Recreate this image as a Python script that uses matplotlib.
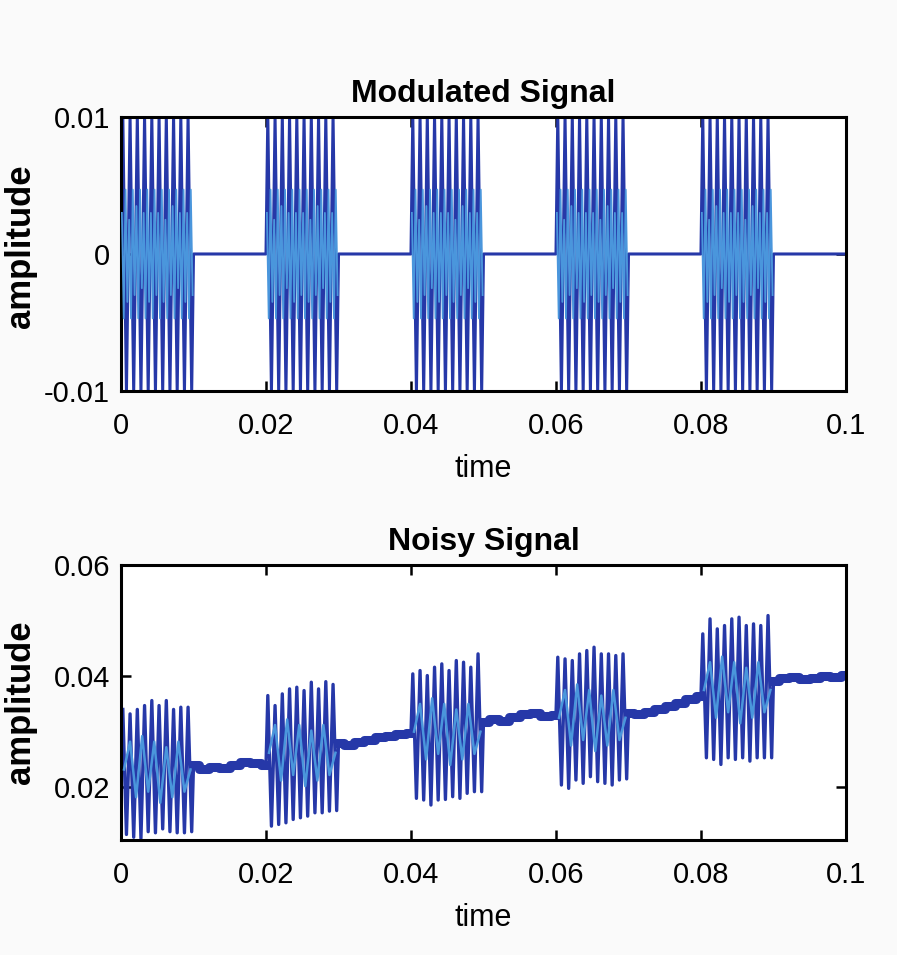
import numpy as np
import matplotlib.pyplot as plt

plt.rcParams['font.family'] = ['Liberation Sans', 'DejaVu Sans']

# time axis
time_ticks = [0, 0.02, 0.04, 0.06, 0.08, 0.1]
time_labels = ["0", "0.02", "0.04", "0.06", "0.08", "0.1"]
burst_starts = [0.0, 0.02, 0.04, 0.06, 0.08]
burst_len = 0.01

# modulated signal: carrier peaks (clipped at +-0.01) and the lighter inner ripple
mod_ticks = [-0.01, 0, 0.01]
mod_labels = ["-0.01", "0", "0.01"]
mod_peak = [0.01, -0.01] * 10
mod_inner = [0.0030, -0.0047, 0.0047, -0.0035, 0.0025, -0.0047, 0.0047, -0.0030, 0.0035, -0.0047,
             0.0047, -0.0025, 0.0030, -0.0047, 0.0047, -0.0035, 0.0030, -0.0047, 0.0047, -0.0030,
             0.0030, -0.0047, 0.0047, -0.0035, 0.0025, -0.0047, 0.0047, -0.0030, 0.0035, -0.0047,
             0.0047, -0.0025, 0.0030, -0.0047, 0.0047, -0.0035, 0.0030, -0.0047, 0.0047, -0.0030]

# noisy signal: upper / lower peaks of each burst
noisy_ticks = [0.02, 0.04, 0.06]
noisy_labels = ["0.02", "0.04", "0.06"]
noisy_tops = [
    [0.0340, 0.0332, 0.0340, 0.0347, 0.0356, 0.0347, 0.0356, 0.0340, 0.0344, 0.0344],
    [0.0365, 0.0347, 0.0368, 0.0377, 0.0380, 0.0374, 0.0389, 0.0377, 0.0390, 0.0385],
    [0.0404, 0.0410, 0.0401, 0.0416, 0.0422, 0.0410, 0.0428, 0.0425, 0.0416, 0.0440],
    [0.0434, 0.0431, 0.0428, 0.0440, 0.0446, 0.0452, 0.0440, 0.0440, 0.0437, 0.0440],
    [0.0476, 0.0503, 0.0485, 0.0491, 0.0503, 0.0506, 0.0491, 0.0494, 0.0491, 0.0509],
]
noisy_bots = [
    [0.0115, 0.0110, 0.0108, 0.0120, 0.0118, 0.0125, 0.0120, 0.0118, 0.0118, 0.0120],
    [0.0130, 0.0133, 0.0136, 0.0142, 0.0145, 0.0148, 0.0154, 0.0154, 0.0157, 0.0158],
    [0.0180, 0.0177, 0.0168, 0.0177, 0.0178, 0.0183, 0.0180, 0.0189, 0.0192, 0.0192],
    [0.0204, 0.0198, 0.0213, 0.0207, 0.0219, 0.0210, 0.0207, 0.0204, 0.0213, 0.0215],
    [0.0253, 0.0250, 0.0241, 0.0253, 0.0250, 0.0253, 0.0247, 0.0253, 0.0253, 0.0253],
]
noisy_mid = [0.0232, 0.0262, 0.0300, 0.0325, 0.0375]
noisy_ripple = [0.000, 0.005, -0.005, 0.006, -0.004, 0.005, -0.006, 0.004, -0.005, 0.005, -0.004, 0.000]
# level of the noise between bursts
noisy_gaps = [
    [0.0240, 0.0232, 0.0236, 0.0234, 0.0240, 0.0246, 0.0244, 0.0240],
    [0.0280, 0.0276, 0.0282, 0.0285, 0.0290, 0.0292, 0.0296, 0.0298],
    [0.0318, 0.0322, 0.0320, 0.0326, 0.0332, 0.0334, 0.0328, 0.0330],
    [0.0334, 0.0332, 0.0336, 0.0340, 0.0346, 0.0352, 0.0358, 0.0364],
    [0.0392, 0.0396, 0.0398, 0.0394, 0.0396, 0.0400, 0.0398, 0.0402],
]

dark = '#2638a8'
light = '#4a96dc'


def burst_times(start, n):
    return list(start + (np.arange(n) + 0.5) / n * burst_len)


fig = plt.figure(figsize=(8.97, 9.55), dpi=100, facecolor='#fafafa')
ax1 = fig.add_axes([0.1349, 0.5906, 0.8082, 0.2869])
ax2 = fig.add_axes([0.1349, 0.1204, 0.8082, 0.2880])

# top: modulated signal
t_top, y_top, t_in, y_in = [], [], [], []
for s in burst_starts:
    t_top += [s] + burst_times(s, len(mod_peak)) + [s + burst_len]
    y_top += [0] + mod_peak + [0]
    t_in += burst_times(s, len(mod_inner)) + [np.nan]
    y_in += mod_inner + [np.nan]
t_top.append(0.1)
y_top.append(0)
ax1.plot(t_top, y_top, color=dark, lw=2.2, zorder=2)
ax1.plot(t_in, y_in, color=light, lw=1.3, zorder=3)
ax1.set_ylim(-0.01, 0.01)

# bottom: noisy signal
t_n, y_n, t_r, y_r = [], [], [], []
for i, s in enumerate(burst_starts):
    vals = []
    for a, b in zip(noisy_tops[i], noisy_bots[i]):
        vals += [a, b]
    t_n += burst_times(s, len(vals))
    y_n += vals
    g = noisy_gaps[i]
    tg = list(np.linspace(s + burst_len, s + 2 * burst_len, len(g)))
    t_n += tg
    y_n += g
    ax2.plot(tg, g, color=dark, lw=6.5, drawstyle='steps-mid', zorder=2)
    t_r += burst_times(s, len(noisy_ripple)) + [np.nan]
    y_r += [noisy_mid[i] + r for r in noisy_ripple] + [np.nan]
ax2.plot(t_n, y_n, color=dark, lw=2.4, zorder=2)
ax2.plot(t_r, y_r, color=light, lw=1.8, zorder=3)
ax2.set_ylim(0.0105, 0.06)

for ax, yt, yl, title, ly in [(ax1, mod_ticks, mod_labels, 'Modulated Signal', 0.53),
                              (ax2, noisy_ticks, noisy_labels, 'Noisy Signal', 0.5)]:
    ax.set_xlim(0, 0.1)
    ax.set_xticks(time_ticks)
    ax.set_xticklabels(time_labels)
    ax.set_yticks(yt)
    ax.set_yticklabels(yl)
    ax.tick_params(direction='in', length=7, width=1.8, top=True, right=True, labelsize=21)
    ax.tick_params(axis='x', pad=15)
    ax.tick_params(axis='y', pad=8)
    for sp in ax.spines.values():
        sp.set_linewidth(2.2)
    ax.set_title(title, fontsize=23, fontweight='bold', pad=11)
    ax.set_xlabel('time', fontsize=22, labelpad=10)
    ax.set_ylabel('amplitude', fontsize=25, fontweight='bold')
    ax.yaxis.set_label_coords(-0.116, ly)

fig.savefig('out.png', dpi=100, facecolor=fig.get_facecolor())
